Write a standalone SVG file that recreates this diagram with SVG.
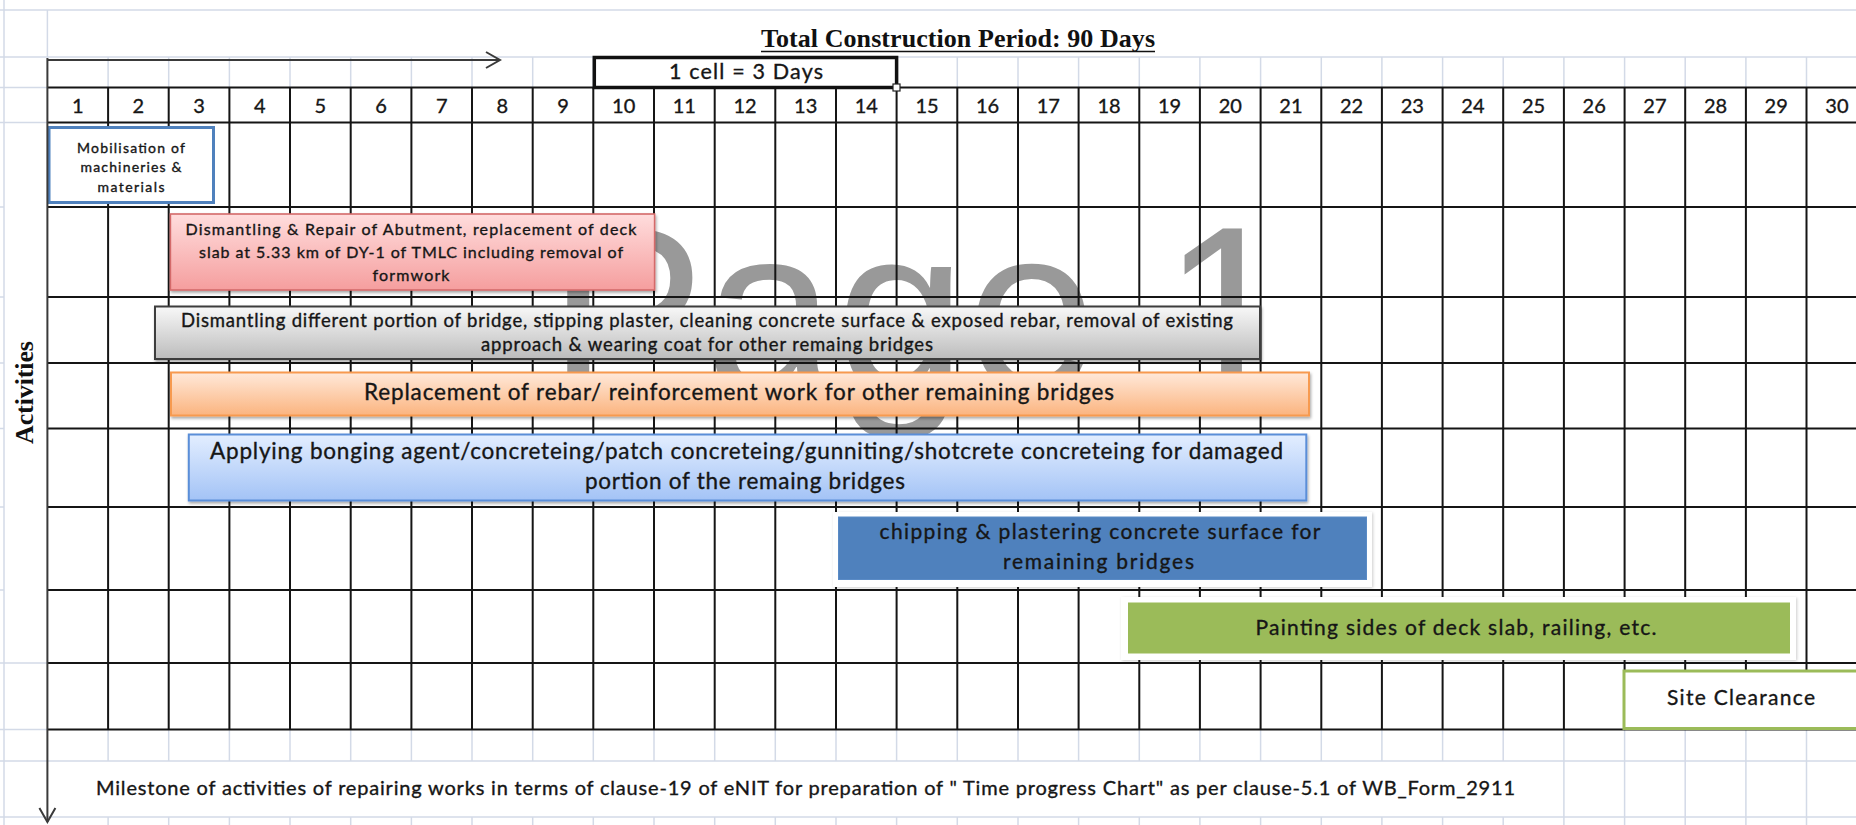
<svg xmlns="http://www.w3.org/2000/svg" width="1856" height="825" viewBox="0 0 1856 825">
<defs>
<style>
.lg{stroke:#d3dae7;stroke-width:1.5;fill:none}
.bk{stroke:#151515;stroke-width:2;fill:none}
.t{font-family:Lato,"Open Sans","Liberation Sans",sans-serif;fill:#161616;stroke:#161616;stroke-width:0.35}
.num{font-size:20px;text-anchor:middle}
.c{text-anchor:middle}
.serif{font-family:"Liberation Serif","Times New Roman",serif;font-weight:bold;fill:#111}
.conn{stroke:#3a3a3a;stroke-width:2;fill:none}
</style>
<linearGradient id="gRed" x1="0" y1="0" x2="0" y2="1"><stop offset="0" stop-color="#FFDDDD"/><stop offset="1" stop-color="#F59E9E"/></linearGradient>
<linearGradient id="gGray" x1="0" y1="0" x2="0" y2="1"><stop offset="0" stop-color="#F8F8F8"/><stop offset="1" stop-color="#BCBCBC"/></linearGradient>
<linearGradient id="gOrange" x1="0" y1="0" x2="0" y2="1"><stop offset="0" stop-color="#FFE9DA"/><stop offset="1" stop-color="#FBB47F"/></linearGradient>
<linearGradient id="gBlue" x1="0" y1="0" x2="0" y2="1"><stop offset="0" stop-color="#E3EEFF"/><stop offset="1" stop-color="#A3C3F6"/></linearGradient>
<filter id="sh" x="-5%" y="-20%" width="110%" height="150%"><feDropShadow dx="1" dy="2" stdDeviation="1.5" flood-color="#000" flood-opacity="0.35"/></filter>
<filter id="glow" x="-5%" y="-20%" width="110%" height="150%"><feDropShadow dx="1" dy="1" stdDeviation="1.5" flood-color="#000" flood-opacity="0.2"/></filter>
<marker id="arr" viewBox="-16 -10 18 20" refX="0" refY="0" markerWidth="18" markerHeight="20" markerUnits="userSpaceOnUse" orient="auto">
<path d="M-14 -8 L0 0 L-14 8" fill="none" stroke="#3a3a3a" stroke-width="2"/>
</marker>
</defs>
<rect width="1856" height="825" fill="#fff"/>

<g id="watermark">
<text x="548" y="391" font-family="'Liberation Sans',Arial,sans-serif" font-size="235" fill="#999999">Page 1</text>
</g>

<g id="grid-light">
<path class="lg" d="M0 10H1856 M0 57H1856 M0 761H1856 M0 817H1856 M4 0V825 M47.4 10V57 M0 87.5H47 M0 122.5H47 M0 663H47 M0 729.5H47 M0 207H4 M0 297H4 M0 363H4 M0 428.5H4 M0 507H4 M0 590H4"/>
<path class="lg" d="M108.1 57V87.5 M168.7 57V87.5 M229.4 57V87.5 M290 57V87.5 M350.7 57V87.5 M411.4 57V87.5 M472 57V87.5 M532.7 57V87.5 M593.3 57V87.5 M957.3 57V87.5 M1018 57V87.5 M1078.6 57V87.5 M1139.3 57V87.5 M1199.9 57V87.5 M1260.6 57V87.5 M1321.3 57V87.5 M1381.9 57V87.5 M1442.6 57V87.5 M1503.2 57V87.5 M1563.9 57V87.5 M1624.6 57V87.5 M1685.2 57V87.5 M1745.9 57V87.5 M1806.5 57V87.5"/>
<path class="lg" d="M108.1 729.5V761M108.1 817V825 M168.7 729.5V761M168.7 817V825 M229.4 729.5V761M229.4 817V825 M290 729.5V761M290 817V825 M350.7 729.5V761M350.7 817V825 M411.4 729.5V761M411.4 817V825 M472 729.5V761M472 817V825 M532.7 729.5V761M532.7 817V825 M593.3 729.5V761M593.3 817V825 M654 729.5V761M654 817V825 M714.7 729.5V761M714.7 817V825 M775.3 729.5V761M775.3 817V825 M836 729.5V761M836 817V825 M896.6 729.5V761M896.6 817V825 M957.3 729.5V761M957.3 817V825 M1018 729.5V761M1018 817V825 M1078.6 729.5V761M1078.6 817V825 M1139.3 729.5V761M1139.3 817V825 M1199.9 729.5V761M1199.9 817V825 M1260.6 729.5V761M1260.6 817V825 M1321.3 729.5V761M1321.3 817V825 M1381.9 729.5V761M1381.9 817V825 M1442.6 729.5V761M1442.6 817V825 M1503.2 729.5V761M1503.2 817V825 M1563.9 729.5V825 M1624.6 729.5V825 M1685.2 729.5V825 M1745.9 729.5V825 M1806.5 729.5V825"/>
</g>

<g id="grid">
<path class="bk" d="M47.4 87.5H1856" stroke-width="3"/>
<path class="bk" d="M47.4 122.5H1856 M47.4 207H1856 M47.4 297H1856 M47.4 363H1856 M47.4 428.5H1856 M47.4 507H1856 M47.4 590H1856 M47.4 663H1856 M47.4 729.5H1856"/>
<path class="bk" d="M108.1 87.5V729.5 M168.7 87.5V729.5 M229.4 87.5V729.5 M290 87.5V729.5 M350.7 87.5V729.5 M411.4 87.5V729.5 M472 87.5V729.5 M532.7 87.5V729.5 M593.3 87.5V729.5 M654 87.5V729.5 M714.7 87.5V729.5 M775.3 87.5V729.5 M836 87.5V729.5 M896.6 87.5V729.5 M957.3 87.5V729.5 M1018 87.5V729.5 M1078.6 87.5V729.5 M1139.3 87.5V729.5 M1199.9 87.5V729.5 M1260.6 87.5V729.5 M1321.3 87.5V729.5 M1381.9 87.5V729.5 M1442.6 87.5V729.5 M1503.2 87.5V729.5 M1563.9 87.5V729.5 M1624.6 87.5V729.5 M1685.2 87.5V729.5 M1745.9 87.5V729.5 M1806.5 87.5V729.5"/>
</g>

<g id="title">
<text class="serif" x="958" y="46.5" font-size="26" text-anchor="middle" textLength="394">Total Construction Period: 90 Days</text>
<path d="M761 51.5H1155" stroke="#111" stroke-width="1.6"/>
</g>

<g id="cell-scale">
<rect x="594.3" y="57.5" width="302.3" height="30" fill="#fff" stroke="#111" stroke-width="3.5"/>
<text class="t c" x="746" y="79" font-size="21.5" textLength="154">1 cell = 3 Days</text>
<rect x="893" y="84" width="7" height="7" fill="#fff" stroke="#222" stroke-width="1.2"/>
</g>

<g id="day-numbers" class="t num">
<text x="77.7" y="113">1</text><text x="138.4" y="113">2</text><text x="199.1" y="113">3</text><text x="259.7" y="113">4</text><text x="320.4" y="113">5</text><text x="381" y="113">6</text><text x="441.7" y="113">7</text><text x="502.4" y="113">8</text><text x="563" y="113">9</text><text x="623.7" y="113">10</text><text x="684.3" y="113">11</text><text x="745" y="113">12</text><text x="805.7" y="113">13</text><text x="866.3" y="113">14</text><text x="927" y="113">15</text><text x="987.6" y="113">16</text><text x="1048.3" y="113">17</text><text x="1109" y="113">18</text><text x="1169.6" y="113">19</text><text x="1230.3" y="113">20</text><text x="1290.9" y="113">21</text><text x="1351.6" y="113">22</text><text x="1412.3" y="113">23</text><text x="1472.9" y="113">24</text><text x="1533.6" y="113">25</text><text x="1594.2" y="113">26</text><text x="1654.9" y="113">27</text><text x="1715.6" y="113">28</text><text x="1776.2" y="113">29</text><text x="1836.9" y="113">30</text>
</g>

<g id="activities-label">
<text class="serif" transform="translate(33 392.5) rotate(-90)" font-size="26" text-anchor="middle" textLength="103">Activities</text>
</g>

<g id="task-mobilisation">
<rect x="49" y="127.5" width="164.5" height="75" fill="#fff" stroke="#4F81BD" stroke-width="3"/>
<text class="t c" font-size="14"><tspan x="131" y="152.5" textLength="108">Mobilisation of</tspan><tspan x="131" y="171.5" textLength="101">machineries &amp;</tspan><tspan x="131" y="192" textLength="67">materials</tspan></text>
</g>

<g id="task-abutment">
<rect x="170.4" y="214" width="484.2" height="76" fill="url(#gRed)" stroke="#D46A6A" stroke-width="1.6" filter="url(#sh)"/>
<text class="t c" font-size="16"><tspan x="411" y="235" textLength="451">Dismantling &amp; Repair of Abutment, replacement of deck</tspan><tspan x="411" y="257.5" textLength="424">slab at 5.33 km of DY-1 of TMLC including removal of</tspan><tspan x="411" y="280.5" textLength="77">formwork</tspan></text>
</g>

<g id="task-dismantling">
<rect x="155" y="306.5" width="1105" height="52.5" fill="url(#gGray)" stroke="#3c3c3c" stroke-width="2" filter="url(#sh)"/>
<text class="t c" font-size="18.5"><tspan x="707" y="326.5" textLength="1052">Dismantling different portion of bridge, stipping plaster, cleaning concrete surface &amp; exposed rebar, removal of existing</tspan><tspan x="707" y="350.5" textLength="452">approach &amp; wearing coat for other remaing bridges</tspan></text>
</g>

<g id="task-rebar">
<rect x="171" y="372.5" width="1138" height="43" fill="url(#gOrange)" stroke="#F79A50" stroke-width="2" filter="url(#sh)"/>
<text class="t c" x="739" y="400" font-size="22.5" textLength="750">Replacement of rebar/ reinforcement work for other remaining bridges</text>
</g>

<g id="task-concreting">
<rect x="188.8" y="434.5" width="1117.5" height="66" fill="url(#gBlue)" stroke="#5A8ED8" stroke-width="2" filter="url(#sh)"/>
<text class="t c" font-size="22.5"><tspan x="746.5" y="459" textLength="1073">Applying bonging agent/concreteing/patch concreteing/gunniting/shotcrete concreteing for damaged</tspan><tspan x="745" y="489" textLength="320">portion of the remaing bridges</tspan></text>
</g>

<g id="task-plastering">
<rect x="833" y="512" width="539" height="75" fill="#fff" filter="url(#glow)"/>
<rect x="838.5" y="517" width="528" height="62.5" fill="#4F81BD" stroke="#5A8BC6" stroke-width="1"/>
<text class="t c" font-size="21" fill="#17202e"><tspan x="1100" y="538.5" textLength="441">chipping &amp; plastering concrete surface for</tspan><tspan x="1098.5" y="568.5" textLength="191">remaining bridges</tspan></text>
</g>

<g id="task-painting">
<rect x="1121" y="597" width="675" height="63" fill="#fff" filter="url(#glow)"/>
<rect x="1128" y="602.5" width="662" height="51" fill="#9BBB59"/>
<text class="t c" x="1456" y="635" font-size="21" textLength="401">Painting sides of deck slab, railing, etc.</text>
</g>

<g id="task-site-clearance">
<rect x="1624" y="671" width="250" height="57.5" fill="#fff" stroke="#9BBB59" stroke-width="3"/>
<text class="t c" x="1741" y="705" font-size="21" textLength="148">Site Clearance</text>
</g>

<g id="milestone-note">
<text class="t" x="96" y="795" font-size="20" textLength="1419">Milestone of activities of repairing works in terms of clause-19 of eNIT for preparation of " Time progress Chart" as per clause-5.1 of WB_Form_2911</text>
</g>

<g id="connectors">
<path class="conn" d="M47.4 60H500" marker-end="url(#arr)"/>
<path class="conn" d="M47.4 58V822" marker-end="url(#arr)"/>
</g>
</svg>
